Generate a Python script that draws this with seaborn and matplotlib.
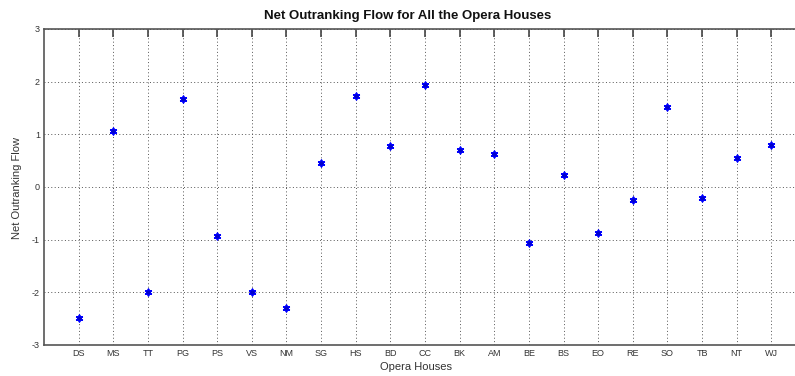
import matplotlib
matplotlib.use("Agg")
import matplotlib.pyplot as plt
import seaborn as sns
import pandas as pd

houses = ["DS", "MS", "TT", "PG", "PS", "VS", "NM", "SG", "HS", "BD", "CC",
          "BK", "AM", "BE", "BS", "EO", "RE", "SO", "TB", "NT", "WJ"]
net_flow = [-2.48, 1.06, -2.00, 1.68, -0.93, -1.99, -2.30, 0.46, 1.73, 0.78, 1.93,
            0.71, 0.63, -1.07, 0.23, -0.87, -0.25, 1.52, -0.21, 0.55, 0.80]
y_ticks = [-3, -2, -1, 0, 1, 2, 3]

df = pd.DataFrame({"pos": range(1, len(houses) + 1), "house": houses, "flow": net_flow})

sns.set_style("white")
plt.rcParams["font.family"] = ["Liberation Sans", "DejaVu Sans"]
plt.rcParams["axes.unicode_minus"] = False

fig = plt.figure(figsize=(7.95, 3.76), dpi=100)
ax = fig.add_axes([44 / 795, 31 / 376, 762 / 795, 316 / 376])

sns.scatterplot(data=df, x="pos", y="flow", ax=ax, marker=(6, 2, 0), s=20,
                color="#0000ff", edgecolor="#0000ff", linewidth=1.3, legend=False, zorder=3)
sns.scatterplot(data=df, x="pos", y="flow", ax=ax, marker="o", s=8,
                color="#0000cc", linewidth=0, legend=False, zorder=4)

ax.set_xlim(0, len(houses) + 1)
ax.set_ylim(-3, 3)
ax.set_xticks(df["pos"])
ax.set_xticklabels(houses)
ax.set_yticks(y_ticks)
ax.grid(True, linestyle=(0, (1, 2.5)), color="#555555", linewidth=0.7)
ax.tick_params(axis="both", direction="in", length=6, width=1.2, color="#444444",
               labelsize=6.5, labelcolor="#333333", top=True, right=True, pad=3)
for s in ax.spines.values():
    s.set_color("#555555")
    s.set_linewidth(1.2)

ax.set_xlabel("")
ax.set_ylabel("")
fig.text(408 / 795, 1 - 16 / 376, "Net Outranking Flow for All the Opera Houses",
         ha="center", va="center", fontsize=9.5, fontweight="bold", color="#111111")
fig.text(416 / 795, 1 - 367 / 376, "Opera Houses", ha="center", va="center",
         fontsize=8, color="#333333")
fig.text(17 / 795, 1 - 188 / 376, "Net Outranking Flow", ha="center", va="center",
         rotation=90, fontsize=8, color="#333333")

fig.savefig("out.png", dpi=100)
